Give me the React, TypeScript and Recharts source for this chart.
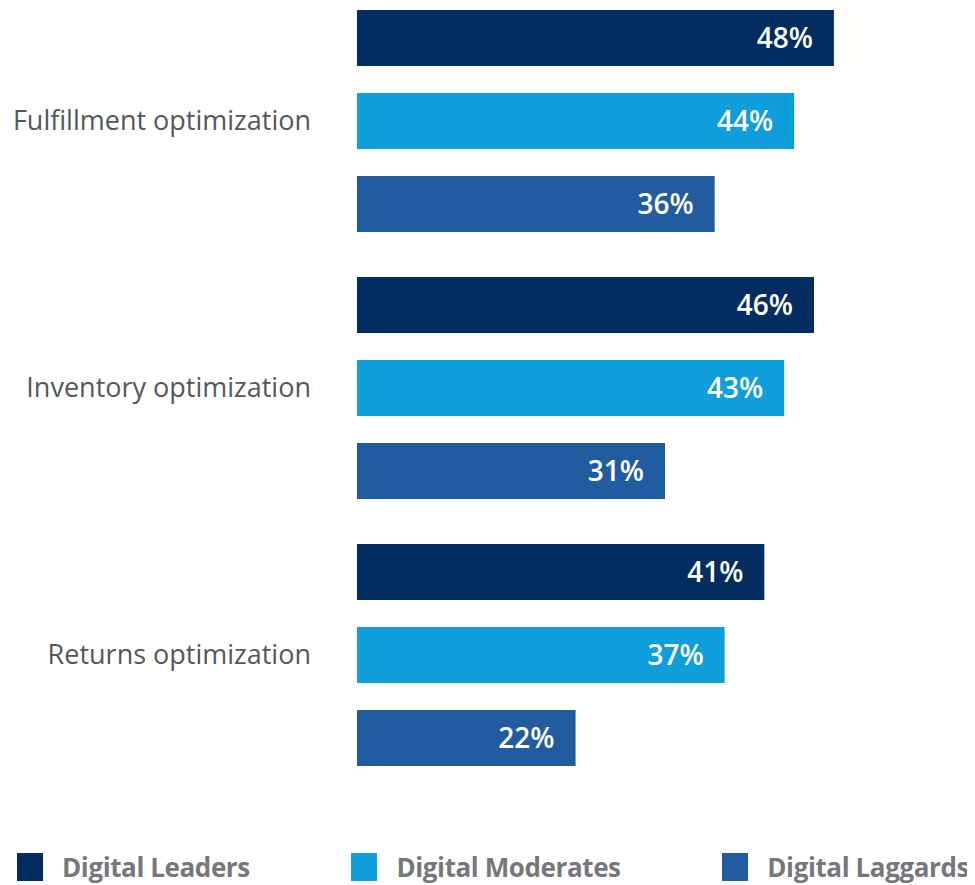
import React from 'react';
import { BarChart, Bar, XAxis, YAxis, LabelList } from 'recharts';

const categories = ['Fulfillment optimization', 'Inventory optimization', 'Returns optimization'];
const leaders = [48, 46, 41];
const moderates = [44, 43, 37];
const laggards = [36, 31, 22];

const series = [
  { key: 'leaders', name: 'Digital Leaders', color: '#032D60' },
  { key: 'moderates', name: 'Digital Moderates', color: '#0E9EDB' },
  { key: 'laggards', name: 'Digital Laggards', color: '#215CA0' },
];

const data = categories.map((name, i) => ({
  name,
  leaders: leaders[i],
  moderates: moderates[i],
  laggards: laggards[i],
}));

const font = '"Open Sans", "Noto Sans", sans-serif';

export default function App() {
  return (
    <div style={{ position: 'relative', width: 975, height: 877 }}>
      <div style={{ position: 'absolute', top: -21, left: -8 }}>
        <BarChart
          width={975}
          height={801}
          data={data}
          layout="vertical"
          margin={{ top: 0, right: 4, left: 0, bottom: 0 }}
          barSize={56}
          barGap={27}
        >
          <XAxis type="number" domain={[0, 61.8]} hide />
          <YAxis
            type="category"
            dataKey="name"
            width={357}
            axisLine={false}
            tickLine={false}
            tickSize={0}
            tickMargin={46}
            tick={{ fill: '#55575a', fontSize: 27, fontFamily: font }}
          />
          {series.map((s) => (
            <Bar key={s.key} dataKey={s.key} name={s.name} fill={s.color} isAnimationActive={false}>
              <LabelList
                dataKey={s.key}
                position="insideRight"
                offset={21}
                formatter={(v: number) => `${v}%`}
                style={{ fill: '#ffffff', fontSize: 28, fontWeight: 600, fontFamily: font }}
              />
            </Bar>
          ))}
        </BarChart>
      </div>
      <div
        style={{
          position: 'absolute',
          top: 845,
          left: 9,
          width: 952,
          display: 'flex',
          justifyContent: 'space-between',
          fontFamily: font,
        }}
      >
        {series.map((s) => (
          <div key={s.key} style={{ display: 'flex', alignItems: 'center' }}>
            <span style={{ display: 'inline-block', width: 26, height: 28, background: s.color, marginRight: 19 }} />
            <span style={{ color: '#77777b', fontSize: 26, fontWeight: 700, lineHeight: '28px', letterSpacing: -0.4 }}>
              {s.name}
            </span>
          </div>
        ))}
      </div>
    </div>
  );
}
